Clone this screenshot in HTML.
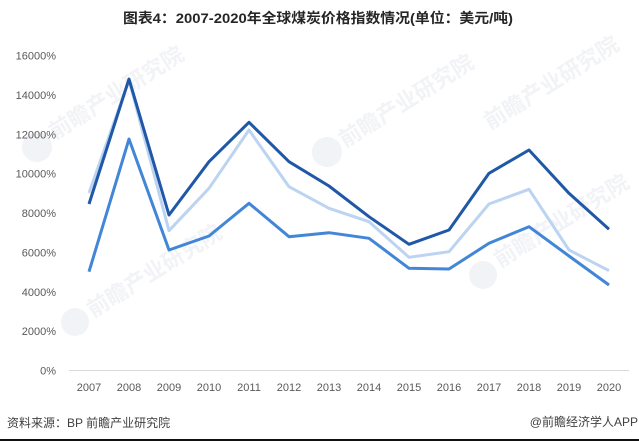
<!DOCTYPE html>
<html>
<head>
<meta charset="utf-8">
<style>
  html, body { margin:0; padding:0; background:#ffffff; }
  body { width:639px; height:441px; overflow:hidden; position:relative; }
  svg { display:block; }
</style>
</head>
<body>
<svg width="639" height="441" viewBox="0 0 639 441" xmlns="http://www.w3.org/2000/svg">
  <rect x="0" y="0" width="639" height="441" fill="#ffffff"/>

  <!-- watermarks -->
  <g fill="#f2f3f6" font-family="'Liberation Sans','Noto Sans CJK SC',sans-serif" font-weight="bold">
    <circle cx="37" cy="147" r="15"/>
    <text x="55" y="140" font-size="22" transform="rotate(-32 55 140)">前瞻产业研究院</text>
    <circle cx="327" cy="152" r="15"/>
    <text x="345" y="148" font-size="22" transform="rotate(-32 345 148)">前瞻产业研究院</text>
    <circle cx="483" cy="275" r="14"/>
    <text x="500" y="268" font-size="22" transform="rotate(-32 500 268)">前瞻产业研究院</text>
    <circle cx="75" cy="322" r="14"/>
    <text x="93" y="318" font-size="22" transform="rotate(-32 93 318)">前瞻产业研究院</text>
    <text x="490" y="130" font-size="22" transform="rotate(-32 490 130)">前瞻产业研究院</text>
  </g>

  <!-- title -->
  <text x="318" y="23" text-anchor="middle" font-family="'Liberation Sans','Noto Sans CJK SC',sans-serif" font-weight="bold" font-size="14" fill="#262626" textLength="390" lengthAdjust="spacingAndGlyphs">图表4：2007-2020年全球煤炭价格指数情况(单位：美元/吨)</text>

  <!-- y axis labels -->
  <g font-family="'Liberation Sans',sans-serif" font-size="11" fill="#595959" text-anchor="end">
    <text x="56" y="59.5">16000%</text>
    <text x="56" y="98.9">14000%</text>
    <text x="56" y="138.3">12000%</text>
    <text x="56" y="177.6">10000%</text>
    <text x="56" y="217">8000%</text>
    <text x="56" y="256.4">6000%</text>
    <text x="56" y="295.8">4000%</text>
    <text x="56" y="335.1">2000%</text>
    <text x="56" y="374.5">0%</text>
  </g>

  <!-- x axis -->
  <line x1="69" y1="370.5" x2="629" y2="370.5" stroke="#d9d9d9" stroke-width="1"/>
  <g font-family="'Liberation Sans',sans-serif" font-size="11" fill="#595959" text-anchor="middle">
    <text x="89" y="391">2007</text>
    <text x="129" y="391">2008</text>
    <text x="169" y="391">2009</text>
    <text x="209" y="391">2010</text>
    <text x="249" y="391">2011</text>
    <text x="289" y="391">2012</text>
    <text x="329" y="391">2013</text>
    <text x="369" y="391">2014</text>
    <text x="409" y="391">2015</text>
    <text x="449" y="391">2016</text>
    <text x="489" y="391">2017</text>
    <text x="529" y="391">2018</text>
    <text x="569" y="391">2019</text>
    <text x="609" y="391">2020</text>
  </g>

  <!-- series -->
  <g fill="none" stroke-width="3" stroke-linejoin="round" stroke-linecap="butt">
    <polyline stroke="#bcd4f1" points="89,193 129,80 169,230.7 209,188.3 249,130 289,186.7 329,208.3 369,221.7 409,257.3 449,251.7 489,204 529,189.3 569,250 609,270.7"/>
    <polyline stroke="#4286d7" points="89,271.7 129,139 169,250 209,236 249,203.3 289,236.7 329,232.7 369,238.3 409,268.3 449,269 489,243.3 529,226.7 569,256 609,285"/>
    <polyline stroke="#1f58a6" points="89,204 129,79 169,215 209,161.7 249,122.3 289,161.7 329,186 369,216.7 409,244.3 449,230 489,173.3 529,150 569,193.3 609,229.3"/>
  </g>

  <!-- footer -->
  <text x="7" y="427" font-family="'Liberation Sans','Noto Sans CJK SC',sans-serif" font-size="12" fill="#404040">资料来源：BP 前瞻产业研究院</text>
  <text x="638" y="426" text-anchor="end" font-family="'Liberation Sans','Noto Sans CJK SC',sans-serif" font-size="12" fill="#404040">@前瞻经济学人APP</text>

  <rect x="0" y="439" width="639" height="2" fill="#111111"/>
</svg>
</body>
</html>
